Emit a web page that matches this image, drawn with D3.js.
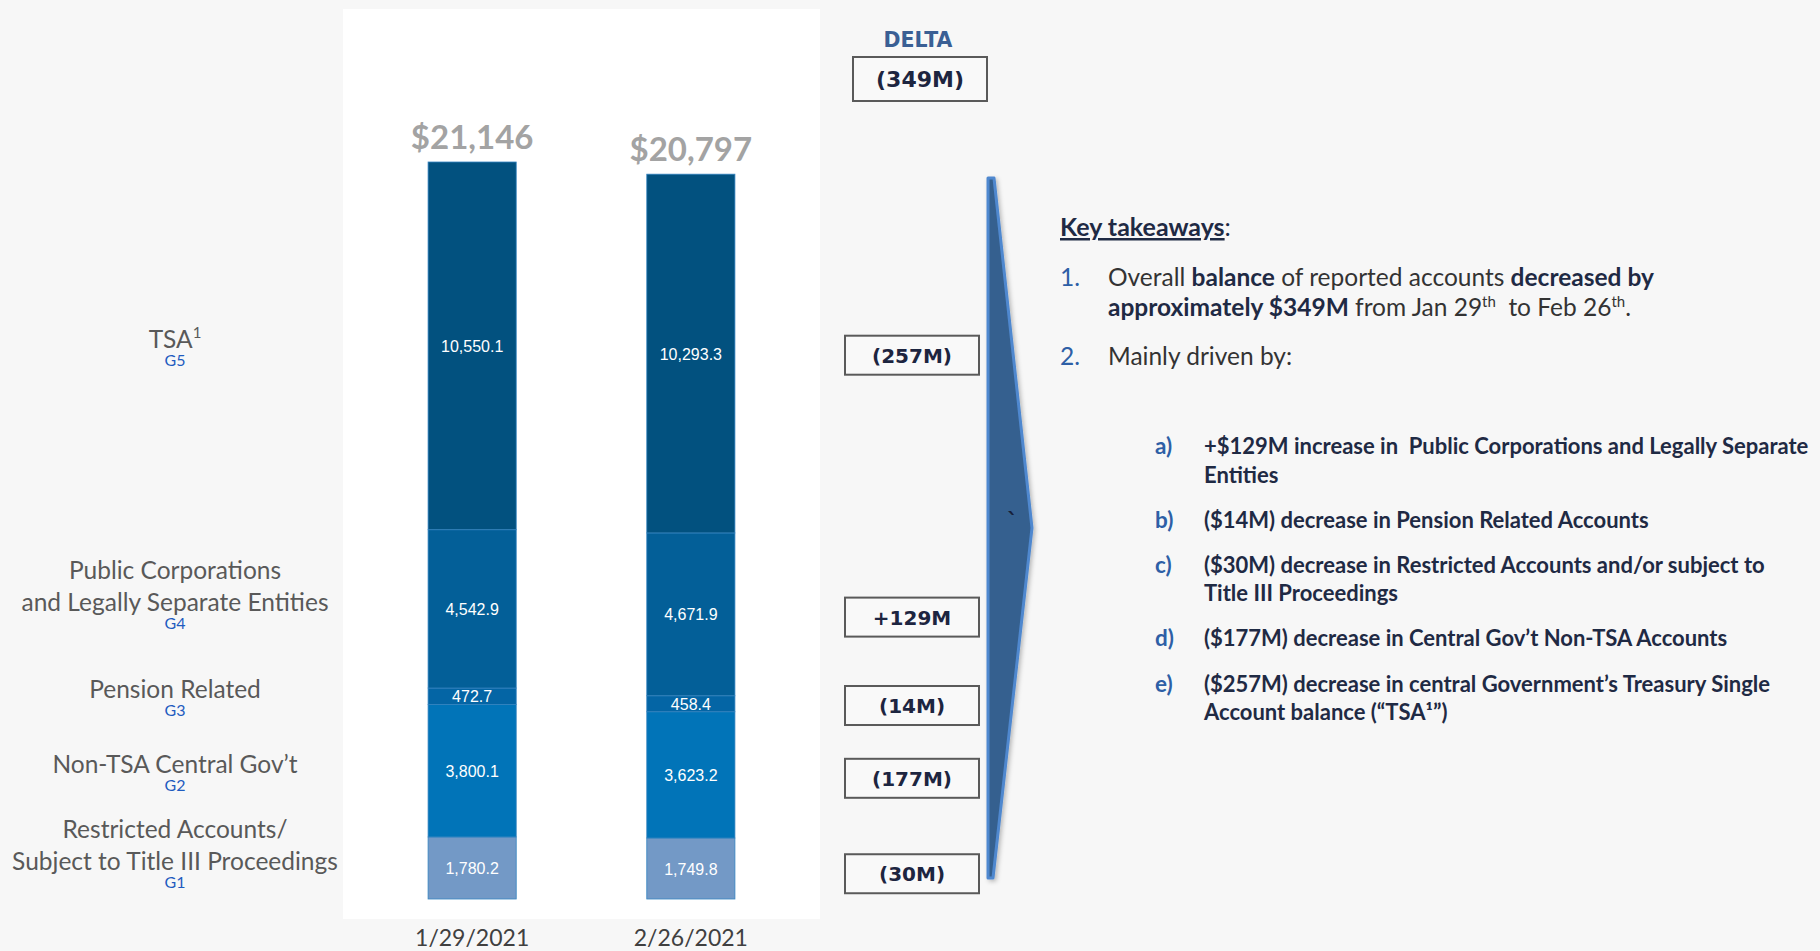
<!DOCTYPE html>
<html>
<head>
<meta charset="utf-8">
<script src="https://cdn.jsdelivr.net/npm/d3@7"></script>
<style>
  body { margin: 0; background: #f7f7f7; }
  svg { display: block; }
  text { white-space: pre; }
</style>
</head>
<body>
<div id="chart"></div>
<script>
// ---- data ----
const dates = ["1/29/2021", "2/26/2021"];
const categories = ["Restricted", "NonTSA", "Pension", "Public", "TSA"];   // bottom -> top
const groupCodes = ["G1", "G2", "G3", "G4", "G5"];
const labelLines = [
  ["Restricted Accounts/", "Subject to Title III Proceedings"],
  ["Non-TSA Central Gov\u2019t"],
  ["Pension Related"],
  ["Public Corporations", "and Legally Separate Entities"],
  ["TSA"]
];
const jan29 = [1780.2, 3800.1, 472.7, 4542.9, 10550.1];
const feb26 = [1749.8, 3623.2, 458.4, 4671.9, 10293.3];

// key takeaways text (runs: b = bold, sup = superscript)
const takeawayTitle = "Key takeaways";
const point1 = [
  [{t: "Overall "}, {t: "balance", b: 1}, {t: " of reported accounts "}, {t: "decreased by", b: 1}],
  [{t: "approximately $349M", b: 1}, {t: " from Jan 29"}, {t: "th", sup: 1}, {t: "  to Feb 26"}, {t: "th", sup: 1}, {t: "."}]
];
const point2 = [[{t: "Mainly driven by:"}]];
const drivers = [
  ["a)", ["+$129M increase in  Public Corporations and Legally Separate", "Entities"]],
  ["b)", ["($14M) decrease in Pension Related Accounts"]],
  ["c)", ["($30M) decrease in Restricted Accounts and/or subject to", "Title III Proceedings"]],
  ["d)", ["($177M) decrease in Central Gov\u2019t Non-TSA Accounts"]],
  ["e)", ["($257M) decrease in central Government\u2019s Treasury Single", "Account balance (\u201cTSA\u00b9\u201d)"]]
];

(function chart(){
  const width = 1820, height = 951;

  const svg = d3.select("#chart")
    .append("svg")
    .attr("width", width)
    .attr("height", height)
    .attr("viewBox", [0, 0, width, height]);

  svg.append("rect").attr("width", width).attr("height", height).attr("fill", "#f7f7f7");

  // rows for the stack
  const rows = dates.map((d, i) => {
    const r = {date: d};
    categories.forEach((c, j) => r[c] = (i === 0 ? jan29 : feb26)[j]);
    return r;
  });
  const totals = rows.map(r => d3.sum(categories, c => r[c]));
  const series = d3.stack().keys(categories)(rows);

  const x = d3.scaleBand()
    .domain(dates)
    .range([343, 820])
    .paddingInner(0.597)
    .paddingOuter(0.389);

  const y = d3.scaleLinear()
    .domain([0, d3.max(totals)])
    .range([899, 162]);

  const color = d3.scaleOrdinal()
    .domain(categories)
    .range(["#7399c6", "#0174b8", "#0465a5", "#035f98", "#02517f"]);

  // white plot panel
  svg.append("rect")
    .attr("x", x.range()[0])
    .attr("y", 9)
    .attr("width", x.range()[1] - x.range()[0])
    .attr("height", 910)
    .attr("fill", "#ffffff");

  // stacked bars
  const layer = svg.append("g")
    .selectAll("g")
    .data(series)
    .join("g")
    .attr("fill", d => color(d.key));

  layer.selectAll("rect")
    .data(d => d)
    .join("rect")
    .attr("x", d => x(d.data.date))
    .attr("y", d => y(d[1]))
    .attr("width", x.bandwidth())
    .attr("height", d => y(d[0]) - y(d[1]))
    .attr("stroke", "#3584c0")
    .attr("stroke-width", 0.8);

  // values inside the segments
  const fmt1 = d3.format(",.1f");
  layer.selectAll("text")
    .data(d => d)
    .join("text")
    .attr("x", d => x(d.data.date) + x.bandwidth() / 2)
    .attr("y", d => (y(d[0]) + y(d[1])) / 2 + 6)
    .attr("text-anchor", "middle")
    .style("font-family", "'Liberation Sans', Arial, sans-serif")
    .style("font-size", "16px")
    .attr("fill", "#ffffff")
    .text(d => fmt1(d[1] - d[0]));

  // totals on top
  svg.append("g")
    .selectAll("text")
    .data(rows)
    .join("text")
    .attr("x", d => x(d.date) + x.bandwidth() / 2)
    .attr("y", (d, i) => y(totals[i]) - 13)
    .attr("text-anchor", "middle")
    .style("font-family", "Lato, sans-serif")
    .style("font-weight", "700")
    .style("font-size", "33px")
    .attr("fill", "#a3a3a3")
    .text((d, i) => "$" + d3.format(",.0f")(totals[i]));

  // date labels
  svg.append("g")
    .selectAll("text")
    .data(dates)
    .join("text")
    .attr("x", d => x(d) + x.bandwidth() / 2)
    .attr("y", 946)
    .attr("text-anchor", "middle")
    .style("font-family", "Lato, sans-serif")
    .style("font-size", "23px")
    .attr("fill", "#404040")
    .text(d => d);

  // category labels on the left: last line sits near the first bar's segment middle
  const first = series.map(s => s[0]);
  const lab = svg.append("g")
    .selectAll("g")
    .data(categories)
    .join("g")
    .attr("transform", (d, i) => {
      const mid = (y(first[i][0]) + y(first[i][1])) / 2;
      const n = labelLines[i].length;
      return `translate(175,${mid + 2 - (n - 1) * 32})`;
    });

  lab.each(function(d, i){
    const g = d3.select(this);
    labelLines[i].forEach((line, k) => {
      const t = g.append("text")
        .attr("y", k * 32)
        .attr("text-anchor", "middle")
        .style("font-family", "Lato, sans-serif")
        .style("font-size", "24.5px")
        .attr("fill", "#595959")
        .text(line);
      if (d === "TSA") t.append("tspan").attr("dy", -10).style("font-size", "15px").text("1");
    });
    g.append("text")
      .attr("y", (labelLines[i].length - 1) * 32 + 18)
      .attr("text-anchor", "middle")
      .style("font-family", "Lato, sans-serif")
      .style("font-size", "16px")
      .attr("fill", "#1f5cc0")
      .text(groupCodes[i]);
  });

  // ---- delta column ----
  const deltas = categories.map((c, j) => feb26[j] - jan29[j]);
  const totalDelta = totals[1] - totals[0];
  const fmtDelta = v => v < 0 ? "(" + Math.round(-v) + "M)" : "+" + Math.round(v) + "M";
  const deltaFont = "'DejaVu Sans', Verdana, sans-serif";

  svg.append("text")
    .attr("x", 918)
    .attr("y", 47)
    .attr("text-anchor", "middle")
    .style("font-family", deltaFont)
    .style("font-weight", "700")
    .style("font-size", "20.5px")
    .attr("fill", "#3a5f94")
    .text("DELTA");

  svg.append("rect")
    .attr("x", 853).attr("y", 57).attr("width", 134).attr("height", 44)
    .attr("fill", "#f9f9f9").attr("stroke", "#5a5a5a").attr("stroke-width", 2);
  svg.append("text")
    .attr("x", 920).attr("y", 87)
    .attr("text-anchor", "middle")
    .style("font-family", deltaFont).style("font-weight", "700").style("font-size", "22px")
    .attr("fill", "#1d2540")
    .text(fmtDelta(totalDelta));

  const boxes = svg.append("g")
    .selectAll("g")
    .data(categories)
    .join("g")
    .attr("transform", (d, i) => {
      const mid = d3.mean(series[i], s => (y(s[0]) + y(s[1])) / 2);
      return `translate(912,${mid + 5})`;
    });
  boxes.append("rect")
    .attr("x", -67).attr("y", -19).attr("width", 134).attr("height", 39)
    .attr("fill", "#f9f9f9").attr("stroke", "#5a5a5a").attr("stroke-width", 2);
  boxes.append("text")
    .attr("y", 8)
    .attr("text-anchor", "middle")
    .style("font-family", deltaFont).style("font-weight", "700").style("font-size", "20px")
    .attr("fill", "#1d2540")
    .text((d, i) => fmtDelta(deltas[i]));

  // big arrow
  const defs = svg.append("defs");
  const f = defs.append("filter").attr("id", "sh").attr("x", "-50%").attr("y", "-10%").attr("width", "200%").attr("height", "120%");
  f.append("feDropShadow").attr("dx", 2).attr("dy", 2).attr("stdDeviation", 2).attr("flood-color", "#000").attr("flood-opacity", 0.25);
  svg.append("polygon")
    .attr("points", [[988, 178], [994, 178], [1032, 528], [993, 878], [988, 878]].join(" "))
    .attr("fill", "#36618f")
    .attr("stroke", "#4f88cf")
    .attr("stroke-width", 3)
    .attr("stroke-linejoin", "round")
    .attr("filter", "url(#sh)");
  svg.append("text")
    .attr("x", 1007).attr("y", 528)
    .style("font-family", deltaFont).style("font-weight", "700").style("font-size", "22px")
    .attr("fill", "#17203a")
    .text("`");

  // ---- key takeaways ----
  const body = "Lato, sans-serif";
  const navy = "#1f2a44", grey = "#333333", blue = "#2e5fa6";

  function runs(sel, parts, size){
    parts.forEach(p => {
      const ts = sel.append("tspan").text(p.t);
      if (p.b) ts.style("font-weight", "700").attr("fill", navy);
      if (p.sup) {
        ts.attr("dy", -9).style("font-size", Math.round(size * 0.62) + "px");
        ts.attr("data-sup", 1);
      }
    });
    // reset baseline after each superscript
    sel.selectAll("tspan").each(function(d, i, nodes){
      if (this.getAttribute("data-sup") && nodes[i + 1]) d3.select(nodes[i + 1]).attr("dy", 9);
    });
  }

  const kt = svg.append("text")
    .attr("x", 1060).attr("y", 236)
    .style("font-family", body).style("font-size", "25px").attr("fill", navy);
  kt.append("tspan").style("font-weight", "700").style("text-decoration", "underline").text(takeawayTitle);
  kt.append("tspan").text(":");

  const numbered = [[point1, [286, 316]], [point2, [365]]];
  numbered.forEach(([lines, ys], k) => {
    svg.append("text")
      .attr("x", 1060).attr("y", ys[0])
      .style("font-family", body).style("font-size", "24.5px").attr("fill", blue)
      .text((k + 1) + ".");
    lines.forEach((ln, j) => {
      const t = svg.append("text")
        .attr("x", 1108).attr("y", ys[j])
        .style("font-family", body).style("font-size", "24.5px").attr("fill", grey);
      runs(t, ln, 24.5);
    });
  });

  const driverY = [[454, 483], [528], [573, 601], [646], [692, 720]];
  drivers.forEach(([letter, lines], k) => {
    svg.append("text")
      .attr("x", 1155).attr("y", driverY[k][0])
      .style("font-family", body).style("font-weight", "700").style("font-size", "22.5px")
      .attr("fill", blue)
      .text(letter);
    lines.forEach((ln, j) => {
      svg.append("text")
        .attr("x", 1204).attr("y", driverY[k][j])
        .style("font-family", body).style("font-weight", "700").style("font-size", "22px")
        .attr("fill", navy)
        .text(ln);
    });
  });
})();
</script>
</body>
</html>
